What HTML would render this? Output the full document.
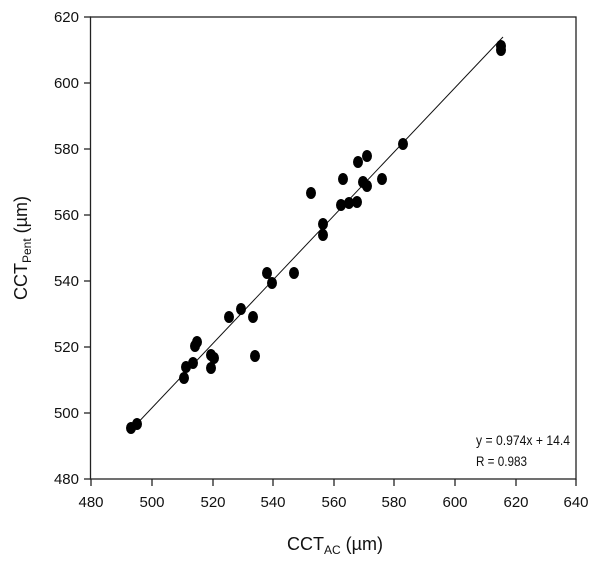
<!DOCTYPE html>
<html><head><style>body{margin:0;background:#fff}</style></head><body>
<svg width="600" height="563" xmlns="http://www.w3.org/2000/svg" font-family="Liberation Sans, sans-serif">
<rect x="90.5" y="17" width="485.5" height="462" fill="none" stroke="#222" stroke-width="1.3"/>
<g stroke="#222" stroke-width="1.3">
<line x1="91" y1="479" x2="91" y2="486"/><line x1="152" y1="479" x2="152" y2="486"/><line x1="213" y1="479" x2="213" y2="486"/><line x1="273" y1="479" x2="273" y2="486"/><line x1="334" y1="479" x2="334" y2="486"/><line x1="394" y1="479" x2="394" y2="486"/><line x1="455" y1="479" x2="455" y2="486"/><line x1="516" y1="479" x2="516" y2="486"/><line x1="576" y1="479" x2="576" y2="486"/>
<line x1="84" y1="479" x2="91" y2="479"/><line x1="84" y1="413" x2="91" y2="413"/><line x1="84" y1="347" x2="91" y2="347"/><line x1="84" y1="281" x2="91" y2="281"/><line x1="84" y1="215" x2="91" y2="215"/><line x1="84" y1="149" x2="91" y2="149"/><line x1="84" y1="83" x2="91" y2="83"/><line x1="84" y1="17" x2="91" y2="17"/>
</g>
<g font-size="15" fill="#111" text-anchor="middle">
<text x="91" y="507">480</text><text x="152" y="507">500</text><text x="213" y="507">520</text><text x="273" y="507">540</text><text x="334" y="507">560</text><text x="394" y="507">580</text><text x="455" y="507">600</text><text x="516" y="507">620</text><text x="576" y="507">640</text>
</g>
<g font-size="15" fill="#111" text-anchor="end">
<text x="79" y="484">480</text><text x="79" y="418">500</text><text x="79" y="352">520</text><text x="79" y="286">540</text><text x="79" y="220">560</text><text x="79" y="154">580</text><text x="79" y="88">600</text><text x="79" y="22">620</text>
</g>
<text x="335" y="550" font-size="18" text-anchor="middle" fill="#111">CCT<tspan font-size="12" dy="4">AC</tspan><tspan dy="-4"> (µm)</tspan></text>
<text transform="translate(27,248) rotate(-90)" font-size="18" text-anchor="middle" fill="#111">CCT<tspan font-size="12" dy="4">Pent</tspan><tspan dy="-4"> (µm)</tspan></text>
<line x1="131" y1="430" x2="503" y2="37" stroke="#111" stroke-width="1"/>
<g fill="#000">
<ellipse cx="131" cy="428" rx="5" ry="6"/><ellipse cx="137" cy="424" rx="5" ry="6"/>
<ellipse cx="184" cy="378" rx="5" ry="6"/><ellipse cx="186" cy="367" rx="5" ry="6"/><ellipse cx="193" cy="363" rx="5" ry="6"/><ellipse cx="195" cy="346" rx="5" ry="6"/><ellipse cx="197" cy="342" rx="5" ry="6"/><ellipse cx="211" cy="355" rx="5" ry="6"/><ellipse cx="214" cy="358" rx="5" ry="6"/><ellipse cx="211" cy="368" rx="5" ry="6"/><ellipse cx="229" cy="317" rx="5" ry="6"/><ellipse cx="241" cy="309" rx="5" ry="6"/><ellipse cx="253" cy="317" rx="5" ry="6"/><ellipse cx="255" cy="356" rx="5" ry="6"/><ellipse cx="267" cy="273" rx="5" ry="6"/><ellipse cx="272" cy="283" rx="5" ry="6"/><ellipse cx="294" cy="273" rx="5" ry="6"/>
<ellipse cx="311" cy="193" rx="5" ry="6"/><ellipse cx="323" cy="224" rx="5" ry="6"/><ellipse cx="323" cy="235" rx="5" ry="6"/><ellipse cx="341" cy="205" rx="5" ry="6"/><ellipse cx="349" cy="203" rx="5" ry="6"/><ellipse cx="357" cy="202" rx="5" ry="6"/><ellipse cx="343" cy="179" rx="5" ry="6"/><ellipse cx="358" cy="162" rx="5" ry="6"/><ellipse cx="367" cy="156" rx="5" ry="6"/><ellipse cx="363" cy="182" rx="5" ry="6"/><ellipse cx="367" cy="186" rx="5" ry="6"/><ellipse cx="382" cy="179" rx="5" ry="6"/><ellipse cx="403" cy="144" rx="5" ry="6"/>
<ellipse cx="501" cy="50" rx="5" ry="6"/><ellipse cx="501" cy="46" rx="5" ry="6"/>
</g>
<g font-size="14" fill="#111">
<text x="476" y="445" textLength="94" lengthAdjust="spacingAndGlyphs">y = 0.974x + 14.4</text>
<text x="476" y="466" textLength="51" lengthAdjust="spacingAndGlyphs">R = 0.983</text>
</g>
</svg>
</body></html>
